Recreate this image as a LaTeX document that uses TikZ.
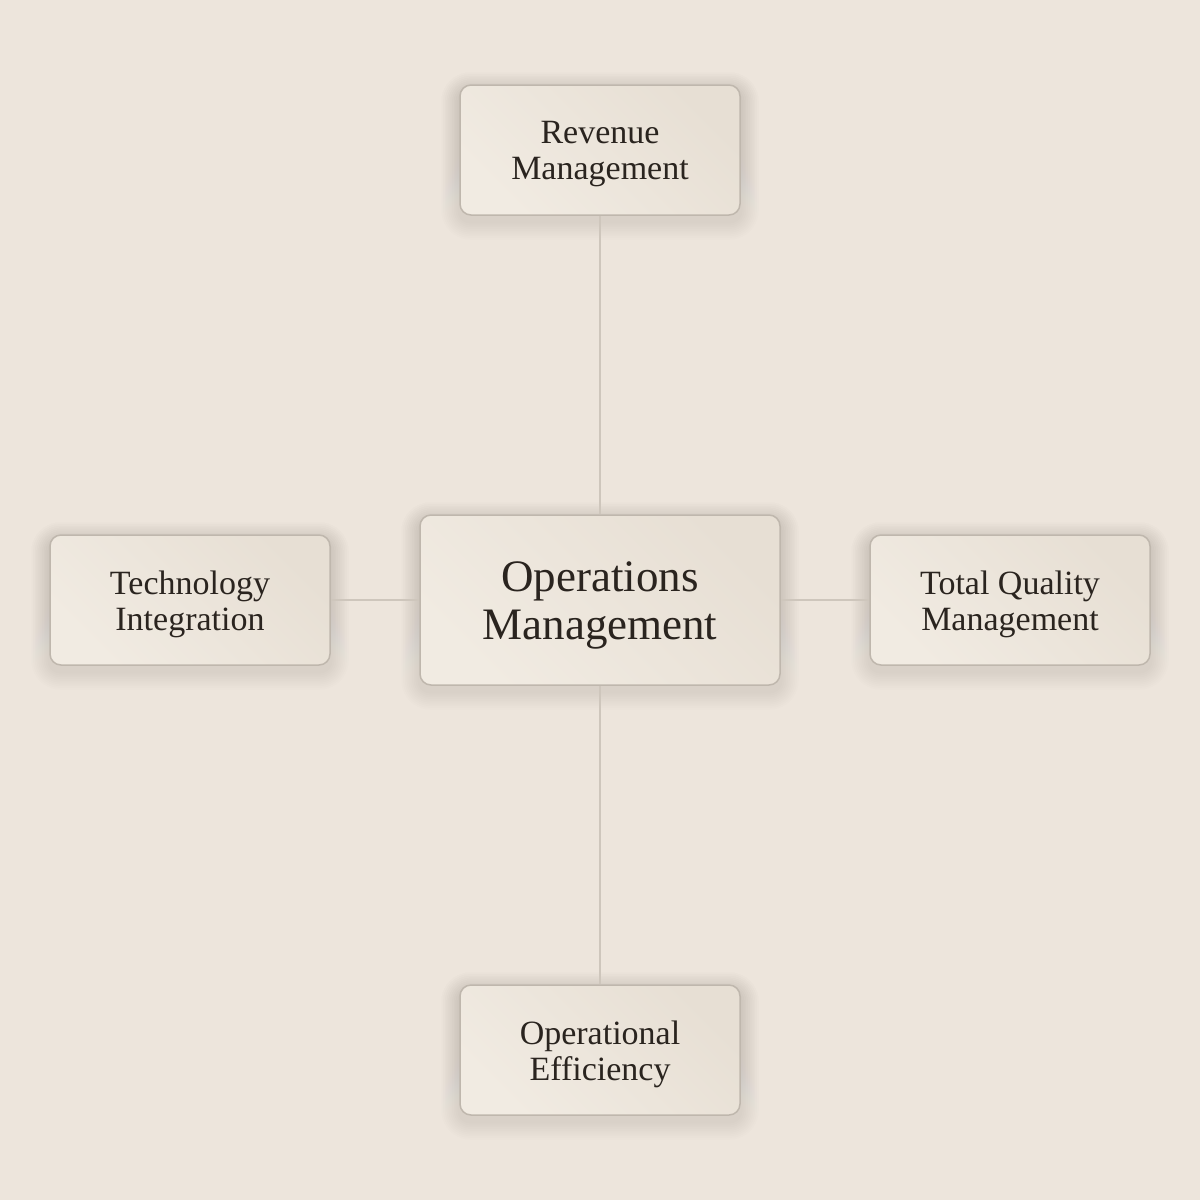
\documentclass[tikz,border=0pt]{standalone}
\usepackage{fontspec}
\setmainfont{Liberation Serif}
\definecolor{bg}{HTML}{EDE5DC}
\definecolor{boxa}{HTML}{F1EBE2}
\definecolor{boxb}{HTML}{E7DFD4}
\definecolor{edge}{HTML}{BFB7AD}
\definecolor{link}{HTML}{CEC6BC}
\definecolor{ink}{HTML}{2A241F}
\definecolor{shade}{HTML}{8A7A66}
\pgfdeclarelayer{background}
\pgfdeclarelayer{bottom}
\pgfsetlayers{bottom,background,main}
\tikzset{
  card/.style={draw=edge, line width=1.5pt, rounded corners=11pt, left color=boxa, right color=boxb, shading angle=135,
    inner sep=0pt},
  small/.style={card, minimum width=280pt, minimum height=130pt},
  big/.style={card, minimum width=360pt, minimum height=170pt},
  stxt/.style={text=ink, align=center, inner sep=0pt, font=\fontsize{34}{36}\selectfont},
  btxt/.style={text=ink, align=center, inner sep=0pt, font=\fontsize{45}{48}\selectfont},
  conn/.style={draw=link, line width=1.5pt}
}
\newcommand{\softshadow}[1]{%
  \begin{pgfonlayer}{background}
  \foreach \k in {1,...,10}{
    \pgfmathsetmacro{\rr}{11+\k*1.8}
    \fill[shade, opacity=0.006, rounded corners=\rr pt]
      ([xshift=-\k*1.8pt, yshift=\k*1.8pt-6pt]#1.north west) rectangle
      ([xshift=\k*1.8pt, yshift=-\k*1.8pt-6pt]#1.south east);
  }
  \end{pgfonlayer}}
\begin{document}
\begin{tikzpicture}[x=1pt,y=-1pt]
\begin{pgfonlayer}{bottom}
\fill[bg] (0,0) rectangle (1200,1200);
\end{pgfonlayer}
\useasboundingbox (0,0) rectangle (1200,1200);
\node[big] (c) at (600,600) {};
\node[small] (t) at (600,150) {};
\node[small] (l) at (190,600) {};
\node[small] (r) at (1010,600) {};
\node[small] (b) at (600,1050) {};
\softshadow{c}\softshadow{t}\softshadow{l}\softshadow{r}\softshadow{b}
\node[btxt, yshift=-5pt] (ct) at (c.center) {Operations\\Management};
\node[stxt, yshift=-4pt] (tt) at (t.center) {Revenue\\Management};
\node[stxt, yshift=-4pt] (lt) at (l.center) {Technology\\Integration};
\node[stxt, yshift=-4pt] (rt) at (r.center) {Total Quality\\Management};
\node[stxt, yshift=-4pt] (bt) at (b.center) {Operational\\Efficiency};
\begin{pgfonlayer}{background}
\draw[conn] (t.south) -- (c.north);
\draw[conn] (b.north) -- (c.south);
\draw[conn] (l.east) -- (c.west);
\draw[conn] (r.west) -- (c.east);
\end{pgfonlayer}
\end{tikzpicture}
\end{document}
